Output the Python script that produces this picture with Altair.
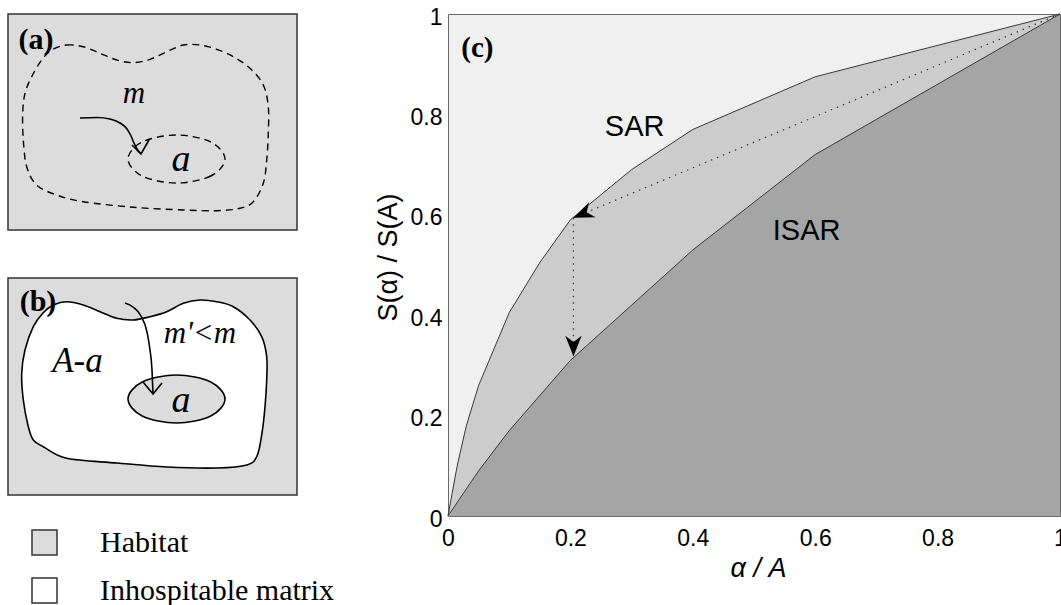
import altair as alt
import pandas as pd

# ---------------- panel (c) values ----------------
sar_x = [0, 0.015, 0.03, 0.05, 0.1, 0.15, 0.2, 0.3, 0.4, 0.6, 1.0]
sar_y = [0, 0.10, 0.18, 0.26, 0.405, 0.505, 0.59, 0.69, 0.77, 0.875, 1.0]
isar_x = [0, 0.05, 0.1, 0.2, 0.3, 0.4, 0.6, 1.0]
isar_y = [0, 0.09, 0.17, 0.31, 0.42, 0.53, 0.72, 1.0]
tick_vals = [0, 0.2, 0.4, 0.6, 0.8, 1.0]

# dotted arrows: SAR(A) -> SAR(a) -> ISAR(a)
diag_x = [1.0, 0.205]
diag_y = [1.0, 0.594]
vert_x = [0.205, 0.205]
vert_y = [0.594, 0.318]
head_x = [0.205, 0.205]
head_y = [0.594, 0.318]
head_angle = [337, 270]

c_labels = ["SAR", "ISAR"]
c_label_x = [0.305, 0.586]
c_label_y = [0.775, 0.568]

# ---------------- schematic (a), (b) in sketch units ----------------
box_x1 = [8, 8]
box_x2 = [297, 297]
box_y1 = [14, 278]
box_y2 = [230, 495]

blob_a_x = [51.7, 66.7, 83.3, 100, 116.7, 133.3, 150, 166.7, 183.3, 200, 216.7, 233.3, 250, 263.3,
            268.3, 268.3, 266.7, 263.3, 253.3, 240, 216.7, 183.3, 133.3, 83.3, 56.7, 36.7, 26.7,
            23.3, 22.7, 25, 31.7, 41.7]
blob_a_y = [50, 45, 46.7, 53.3, 60, 62.7, 59.3, 51.7, 45, 45, 49.3, 56.7, 68.3, 85,
            106.7, 133.3, 160, 183.3, 201.7, 208.3, 210.7, 210, 207.3, 201.7, 195, 185, 166.7,
            140, 113.3, 93.3, 76.7, 60]

blob_b_x = [53.3, 66.7, 83.3, 100, 116.7, 133.3, 150, 166.7, 183.3, 200, 216.7, 233.3, 250, 261.7,
            266.7, 266.7, 265, 262, 257, 247, 217, 167, 117, 66.7, 43.3, 33.3, 28.3, 23.3, 21.7,
            25, 33.3, 43]
blob_b_y = [305, 301.7, 305, 311.7, 318.3, 320, 316.7, 311.7, 303.3, 300, 301.7, 306.7, 320, 336.7,
            356.7, 380, 406.7, 433, 456, 465, 468, 467, 463, 458.3, 446.7, 440, 426.7, 400, 373.3,
            350, 326.7, 313]

ell_a_x = [225, 210.8, 176.5, 142.2, 128, 142.2, 176.5, 210.8]
ell_a_y = [159, 176, 183, 176, 159, 142, 135, 142]
ell_b_x = [225, 210.8, 176.5, 142.2, 128, 142.2, 176.5, 210.8]
ell_b_y = [399, 416, 423, 416, 399, 382, 375, 382]

shaft_a_x = [80, 97, 110, 120, 127, 131, 134, 137, 141]
shaft_a_y = [118, 117.5, 119, 123, 129, 136, 143, 149, 154]
headv_a_x = [132, 141, 149]
headv_a_y = [145, 154, 140]

shaft_b_x = [125, 133, 141, 147, 150, 152, 153]
shaft_b_y = [303, 307, 316, 332, 350, 370, 394]
headv_b_x = [143, 153, 162]
headv_b_y = [382, 394, 383]

legend_sq_x1 = [32, 32]
legend_sq_x2 = [57, 57]
legend_sq_y1 = [530, 578]
legend_sq_y2 = [555, 603]
legend_fill = ["#dcdcdc", "#ffffff"]
legend_text = ["Habitat", "Inhospitable matrix"]
legend_tx = [100, 100]
legend_ty = [552, 600]

panel_tag = ["(a)", "(b)"]
panel_tag_x = [36, 38]
panel_tag_y = [40, 302]

ital_text = ["m", "m'<m", "A-a"]
ital_x = [134, 200, 77.5]
ital_y = [103, 343, 372]
ital_size = [31, 31, 35]
big_a_x = [181, 181]
big_a_y = [171, 412]

# ---------------- scales ----------------
SX = alt.Scale(domain=[0, 1061], range=[-448, 613], nice=False, zero=False)
SY = alt.Scale(domain=[0, 605], range=[-14, 591], nice=False, zero=False)
CX = alt.Scale(domain=[0, 1], nice=False)
CY = alt.Scale(domain=[0, 1], nice=False)

def pxy(i_order=False):
    enc = dict(x=alt.X("x:Q", scale=SX, axis=None), y=alt.Y("y:Q", scale=SY, axis=None))
    if i_order:
        enc["order"] = alt.Order("i:Q")
    return enc

def pts(xs, ys):
    return pd.DataFrame({"x": xs, "y": ys, "i": list(range(len(xs)))})

# ---------------- schematic layers ----------------
boxes = alt.Chart(pd.DataFrame({"x": box_x1, "x2": box_x2, "y": box_y1, "y2": box_y2})).mark_rect(
    fill="#dcdcdc", stroke="#333333", strokeWidth=1.5
).encode(x=alt.X("x:Q", scale=SX, axis=None), x2="x2:Q",
         y=alt.Y("y:Q", scale=SY, axis=None), y2="y2:Q")

blob_a = alt.Chart(pts(blob_a_x, blob_a_y)).mark_line(
    interpolate="cardinal-closed", color="black", strokeWidth=1.4, strokeDash=[7, 5]
).encode(**pxy(True))

blob_b = alt.Chart(pts(blob_b_x, blob_b_y)).mark_line(
    interpolate="cardinal-closed", stroke="black", fill="white", strokeWidth=1.6
).encode(**pxy(True))

ell_a = alt.Chart(pts(ell_a_x, ell_a_y)).mark_line(
    interpolate="cardinal-closed", color="black", strokeWidth=1.4, strokeDash=[7, 5]
).encode(**pxy(True))

ell_b = alt.Chart(pts(ell_b_x, ell_b_y)).mark_line(
    interpolate="cardinal-closed", stroke="black", fill="#dcdcdc", strokeWidth=1.6
).encode(**pxy(True))

shaft_a = alt.Chart(pts(shaft_a_x, shaft_a_y)).mark_line(
    interpolate="monotone", color="black", strokeWidth=1.6).encode(**pxy(True))
head_a = alt.Chart(pts(headv_a_x, headv_a_y)).mark_line(
    color="black", strokeWidth=1.6).encode(**pxy(True))
shaft_b = alt.Chart(pts(shaft_b_x, shaft_b_y)).mark_line(
    interpolate="monotone", color="black", strokeWidth=1.6).encode(**pxy(True))
head_b = alt.Chart(pts(headv_b_x, headv_b_y)).mark_line(
    color="black", strokeWidth=1.6).encode(**pxy(True))

legend_sq = alt.Chart(pd.DataFrame({"x": legend_sq_x1, "x2": legend_sq_x2, "y": legend_sq_y1,
                                    "y2": legend_sq_y2, "f": legend_fill})).mark_rect(
    stroke="#333333", strokeWidth=1.5
).encode(x=alt.X("x:Q", scale=SX, axis=None), x2="x2:Q",
         y=alt.Y("y:Q", scale=SY, axis=None), y2="y2:Q",
         fill=alt.Fill("f:N", scale=None))

legend_txt = alt.Chart(pd.DataFrame({"x": legend_tx, "y": legend_ty, "t": legend_text})).mark_text(
    font="Liberation Serif", fontSize=30, align="left", baseline="alphabetic", color="black"
).encode(**pxy(), text="t:N")

tags = alt.Chart(pd.DataFrame({"x": panel_tag_x, "y": panel_tag_y, "t": panel_tag})).mark_text(
    font="Liberation Serif", fontSize=30, fontWeight="bold", align="center", baseline="middle",
    color="black"
).encode(**pxy(), text="t:N")

ital = alt.Chart(pd.DataFrame({"x": ital_x, "y": ital_y, "t": ital_text, "s": ital_size})).mark_text(
    font="Liberation Serif", fontStyle="italic", align="center",
    baseline="alphabetic", color="black"
).encode(**pxy(), text="t:N", size=alt.Size("s:Q", scale=None))

big_a = alt.Chart(pd.DataFrame({"x": big_a_x, "y": big_a_y, "t": ["a", "a"]})).mark_text(
    font="Liberation Serif", fontSize=38, fontStyle="italic", align="center",
    baseline="alphabetic", color="black"
).encode(**pxy(), text="t:N")

schematic = alt.layer(boxes, blob_a, ell_a, shaft_a, head_a, blob_b, ell_b, shaft_b, head_b,
                      legend_sq, legend_txt, tags, ital, big_a)

# ---------------- panel (c) layers ----------------
xaxis = alt.Axis(values=tick_vals, format="~g", grid=False, ticks=False, domain=False,
                 labelFont="Liberation Sans", labelFontSize=23, labelColor="black",
                 labelPadding=11, labelFlush=False,
                 title="α / A", titleFont="Liberation Sans", titleFontSize=27,
                 titleFontStyle="italic", titleFontWeight="normal", titleColor="black",
                 titleX=310, titleY=52, titleBaseline="middle", titleAlign="center")
yaxis = alt.Axis(values=tick_vals, format="~g", grid=False, ticks=False, domain=False,
                 labelFont="Liberation Sans", labelFontSize=23, labelColor="black",
                 labelPadding=6, labelFlush=False, labelOffset=3,
                 title="S(α) / S(A)", titleFont="Liberation Sans", titleFontSize=27,
                 titleFontWeight="normal", titleColor="black", titleAngle=270,
                 titleX=-60, titleY=243, titleBaseline="middle", titleAlign="center")

sar_df = pd.DataFrame({"x": sar_x, "y": sar_y})
isar_df = pd.DataFrame({"x": isar_x, "y": isar_y})

area_sar = alt.Chart(sar_df).mark_area(fill="#cccccc", interpolate="linear").encode(
    x=alt.X("x:Q", scale=CX, axis=xaxis), y=alt.Y("y:Q", scale=CY, axis=yaxis))
area_isar = alt.Chart(isar_df).mark_area(fill="#a5a5a5", interpolate="linear").encode(
    x=alt.X("x:Q", scale=CX), y=alt.Y("y:Q", scale=CY))
line_sar = alt.Chart(sar_df).mark_line(color="#3a3a3a", strokeWidth=1).encode(
    x=alt.X("x:Q", scale=CX), y=alt.Y("y:Q", scale=CY))
line_isar = alt.Chart(isar_df).mark_line(color="#3a3a3a", strokeWidth=1).encode(
    x=alt.X("x:Q", scale=CX), y=alt.Y("y:Q", scale=CY))

diag = alt.Chart(pd.DataFrame({"x": diag_x, "y": diag_y, "i": [0, 1]})).mark_line(
    color="#333333", strokeWidth=1.2, strokeDash=[1.5, 5]).encode(
    x=alt.X("x:Q", scale=CX), y=alt.Y("y:Q", scale=CY), order="i:Q")
vert = alt.Chart(pd.DataFrame({"x": vert_x, "y": vert_y, "i": [0, 1]})).mark_line(
    color="#333333", strokeWidth=1.2, strokeDash=[1.5, 5]).encode(
    x=alt.X("x:Q", scale=CX), y=alt.Y("y:Q", scale=CY), order="i:Q")

heads = alt.Chart(pd.DataFrame({"x": head_x, "y": head_y, "a": head_angle})).mark_point(
    shape="M0,0 L2,-0.8 L1.4,0 L2,0.8 Z", filled=True, color="black", size=420, opacity=1
).encode(x=alt.X("x:Q", scale=CX), y=alt.Y("y:Q", scale=CY), angle=alt.Angle("a:Q", scale=None))

c_txt = alt.Chart(pd.DataFrame({"x": c_label_x, "y": c_label_y, "t": c_labels})).mark_text(
    font="Liberation Sans", fontSize=29, align="center", baseline="middle", color="black"
).encode(x=alt.X("x:Q", scale=CX), y=alt.Y("y:Q", scale=CY), text="t:N")

c_tag = alt.Chart(pd.DataFrame({"x": [0.048], "y": [0.933], "t": ["(c)"]})).mark_text(
    font="Liberation Serif", fontSize=29, fontWeight="bold", align="center", baseline="middle",
    color="black"
).encode(x=alt.X("x:Q", scale=CX), y=alt.Y("y:Q", scale=CY), text="t:N")

panel_c = alt.layer(area_sar, area_isar, line_sar, line_isar, diag, vert, heads, c_txt, c_tag)

chart = alt.layer(panel_c, schematic).resolve_scale(
    x="independent", y="independent"
).properties(
    width=612, height=502,
    autosize=alt.AutoSizeParams(type="none"),
    padding={"left": 448, "top": 14, "right": 1, "bottom": 89},
    background="white",
).configure_view(fill="#f0f0f0", stroke="#6a6a6a", strokeWidth=1)

chart.save("out.html", embed_options={"renderer": "svg", "actions": False})
